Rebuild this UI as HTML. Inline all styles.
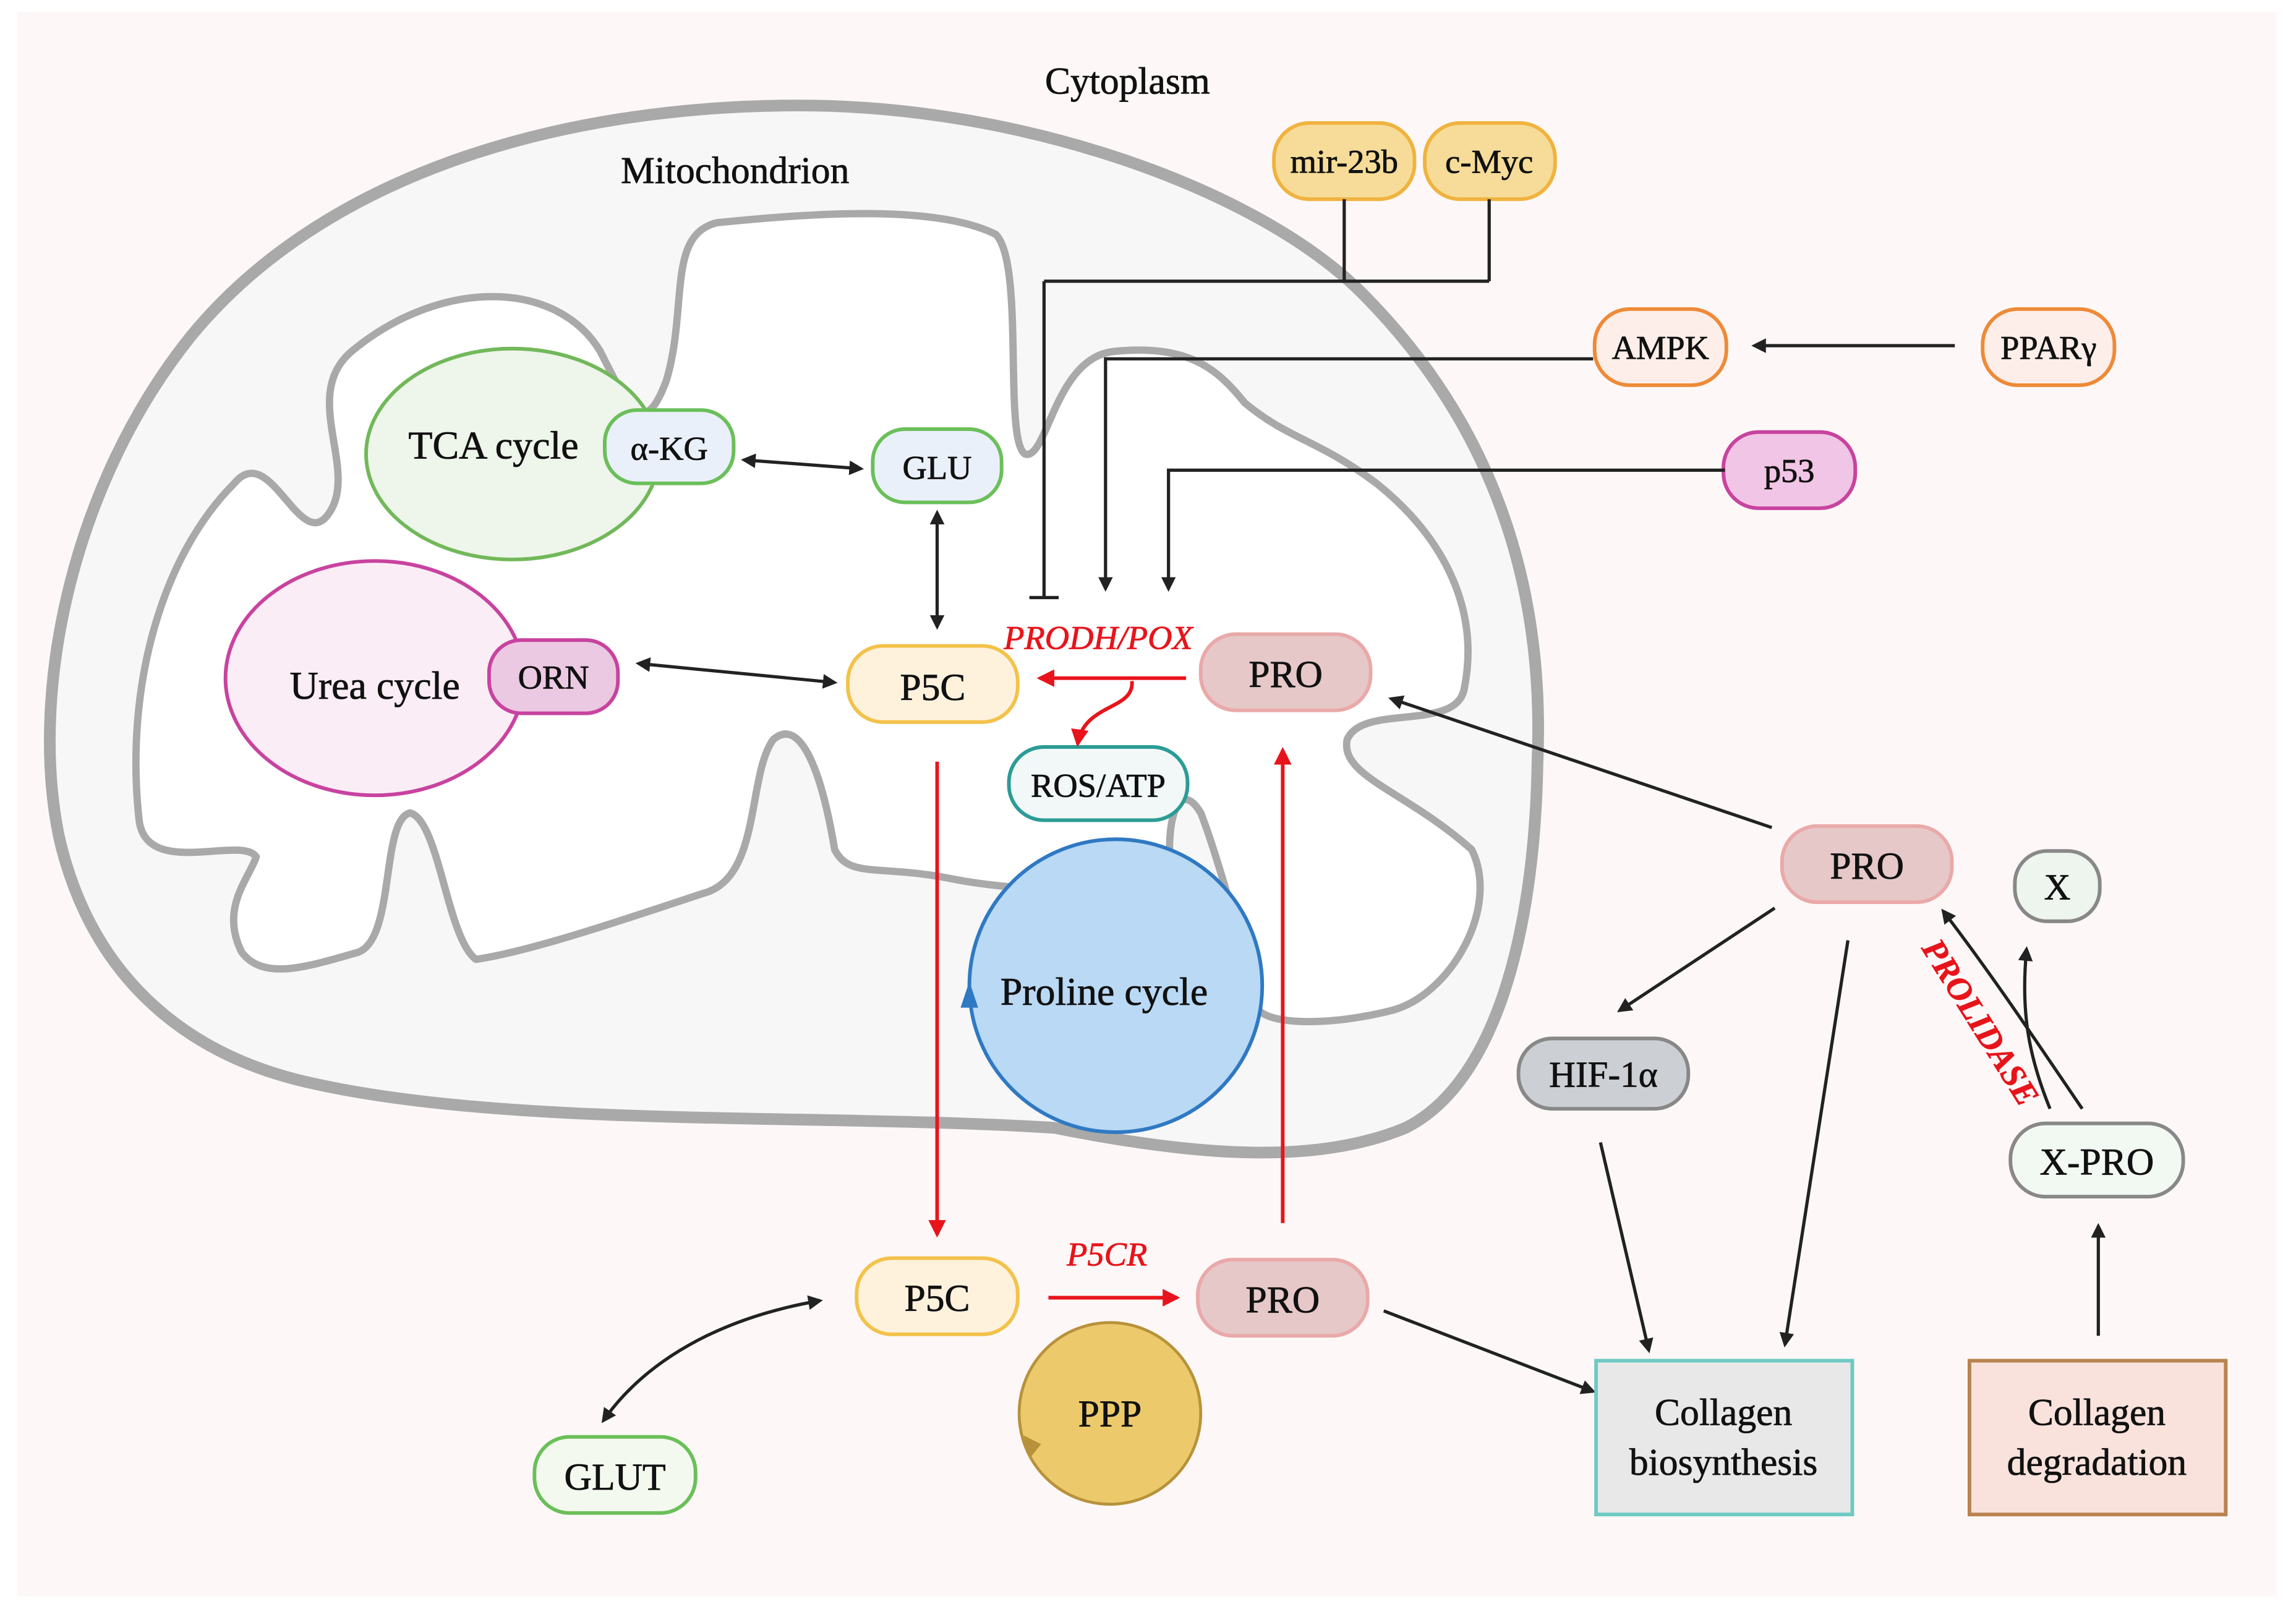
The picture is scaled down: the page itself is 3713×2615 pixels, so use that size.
<!DOCTYPE html>
<html><head><meta charset="utf-8"><style>
html,body{margin:0;padding:0;background:#fff}
svg{display:block}
text{font-family:"Liberation Serif",serif;fill:#111;stroke:#111;stroke-width:0.35}
</style></head><body>
<svg width="3713" height="2615" viewBox="0 0 1568 1104" preserveAspectRatio="none">
<defs>
<marker id="ak" markerWidth="10" markerHeight="10" refX="8" refY="5" orient="auto" markerUnits="userSpaceOnUse"><path d="M0,0 L10,5 L0,10 z" fill="#222"/></marker>
<marker id="aks" markerWidth="10" markerHeight="10" refX="2" refY="5" orient="auto" markerUnits="userSpaceOnUse"><path d="M10,0 L0,5 L10,10 z" fill="#222"/></marker>
<marker id="ar" markerWidth="12" markerHeight="12" refX="10" refY="6" orient="auto" markerUnits="userSpaceOnUse"><path d="M0,0 L12,6 L0,12 z" fill="#e8141b"/></marker>
</defs>
<rect x="12" y="8" width="1543" height="1082" fill="#fdf8f7"/>
<text x="770" y="64" font-size="26" text-anchor="middle">Cytoplasm</text>
<path d="M546,72 C700,72 860,130 930,200 C1020,290 1055,400 1050,520 C1048,640 1020,740 960,770 C900,795 820,790 720,770 C560,760 350,770 215,740 C120,720 60,660 40,570 C20,470 50,330 130,230 C220,120 380,72 546,72 Z" fill="#f7f7f7" stroke="#a9a9a9" stroke-width="8"/>
<path d="M95,560 C85,470 110,380 160,330 C185,300 205,380 225,350 C245,320 205,270 240,240 C300,190 380,190 410,240 C430,280 440,300 455,260 C470,210 455,160 490,152 C560,145 640,140 680,160 C700,180 685,300 700,310 C715,315 720,245 760,240 C810,235 830,250 850,275 C880,300 900,300 940,330 C990,370 1010,420 1000,470 C995,500 930,480 920,505 C915,530 960,540 1005,580 C1025,620 990,680 950,690 C910,700 870,700 860,690 C850,650 830,580 820,555 C805,530 795,560 800,600 C780,610 700,610 650,600 C600,590 580,600 570,580 C560,520 545,490 528,505 C510,530 520,600 480,610 C420,630 360,650 325,655 C305,640 300,560 280,555 C260,560 270,640 245,650 C210,660 180,670 165,650 C150,620 170,600 175,585 C165,570 100,600 95,560 Z" fill="#ffffff" stroke="#a9a9a9" stroke-width="5" stroke-linejoin="round"/>
<text x="502" y="125" font-size="26" text-anchor="middle">Mitochondrion</text>

<ellipse cx="350" cy="310" rx="100" ry="72" fill="#eef5ea" stroke="#72b85a" stroke-width="2.5"/>
<text x="337" y="313" font-size="27" text-anchor="middle">TCA cycle</text>
<rect x="413" y="280" width="88" height="50" rx="22" fill="#eaf0fa" stroke="#6bbf5a" stroke-width="2.5"/>
<text x="457" y="314" font-size="23" text-anchor="middle">α-KG</text>
<rect x="596" y="293" width="88" height="50" rx="22" fill="#eaf0fa" stroke="#6bbf5a" stroke-width="2.5"/>
<text x="640" y="327" font-size="23" text-anchor="middle">GLU</text>
<ellipse cx="256" cy="463" rx="102" ry="80" fill="#fbedf6" stroke="#c8439f" stroke-width="2.5"/>
<text x="256" y="477" font-size="27" text-anchor="middle">Urea cycle</text>
<rect x="334" y="437" width="88" height="50" rx="22" fill="#ecc9e2" stroke="#c8439f" stroke-width="2.5"/>
<text x="378" y="470" font-size="23" text-anchor="middle">ORN</text>

<rect x="579" y="441" width="116" height="52" rx="24" fill="#fff2dd" stroke="#f3c24a" stroke-width="2.5"/>
<text x="637" y="478" font-size="26" text-anchor="middle">P5C</text>
<rect x="820" y="433" width="116" height="52" rx="24" fill="#e6c8c8" stroke="#eaa9a9" stroke-width="2.5"/>
<text x="878" y="469" font-size="26" text-anchor="middle">PRO</text>
<text x="750" y="443" font-size="23" font-style="italic" text-anchor="middle" style="fill:#e8141b;stroke:#e8141b">PRODH/POX</text>
<rect x="689" y="510" width="122" height="50" rx="24" fill="#f1f8f7" stroke="#2b9c95" stroke-width="2.5"/>
<text x="750" y="544" font-size="23" text-anchor="middle">ROS/ATP</text>

<circle cx="762" cy="673" r="100" fill="#b9d9f4" stroke="#2f79c3" stroke-width="2.5"/>
<path d="M656,688 l6,-18 l6,18 z" fill="#2f79c3"/>
<text x="754" y="686" font-size="27" text-anchor="middle">Proline cycle</text>

<rect x="870" y="84" width="96" height="52" rx="24" fill="#f6dc98" stroke="#f0b33f" stroke-width="2.5"/>
<text x="918" y="118" font-size="23" text-anchor="middle">mir-23b</text>
<rect x="973" y="84" width="89" height="52" rx="24" fill="#f6dc98" stroke="#f0b33f" stroke-width="2.5"/>
<text x="1017" y="118" font-size="23" text-anchor="middle">c-Myc</text>
<rect x="1089" y="211" width="90" height="52" rx="24" fill="#fdeee9" stroke="#ee8a38" stroke-width="2.5"/>
<text x="1134" y="245" font-size="23" text-anchor="middle">AMPK</text>
<rect x="1354" y="211" width="90" height="52" rx="24" fill="#fdeee9" stroke="#ee8a38" stroke-width="2.5"/>
<text x="1399" y="245" font-size="23" text-anchor="middle">PPARγ</text>
<rect x="1177" y="295" width="90" height="52" rx="24" fill="#f1c5e5" stroke="#c8439f" stroke-width="2.5"/>
<text x="1222" y="329" font-size="23" text-anchor="middle">p53</text>

<g fill="none" stroke="#222" stroke-width="2.2">
<path d="M918,136 V192 M1017,136 V192 M713,192 H1017 M713,192 V408 M703,408 H723"/>
<path d="M1088,245 H755 V402" marker-end="url(#ak)"/>
<path d="M1335,236 H1198" marker-end="url(#ak)"/>
<path d="M1178,321 H798 V402" marker-end="url(#ak)"/>
<path d="M508,314 L588,320" marker-start="url(#aks)" marker-end="url(#ak)"/>
<path d="M640,350 V428" marker-start="url(#aks)" marker-end="url(#ak)"/>
<path d="M436,453 L570,466" marker-start="url(#aks)" marker-end="url(#ak)"/>
<path d="M560,888 C490,900 440,930 412,970" marker-start="url(#aks)" marker-end="url(#ak)"/>
<path d="M945,895 L1088,950" marker-end="url(#ak)"/>
<path d="M1210,565 L950,477" marker-end="url(#ak)"/>
<path d="M1212,620 L1106,690" marker-end="url(#ak)"/>
<path d="M1262,642 L1219,918" marker-end="url(#ak)"/>
<path d="M1093,780 L1126,922" marker-end="url(#ak)"/>
<path d="M1422,757 C1390,710 1360,665 1327,622" marker-end="url(#ak)"/>
<path d="M1400,757 C1385,720 1380,690 1384,648" marker-end="url(#ak)"/>
<path d="M1433,912 V837" marker-end="url(#ak)"/>
</g>
<g fill="none" stroke="#e8141b" stroke-width="2.5">
<path d="M810,463 H710" marker-end="url(#ar)"/>
<path d="M773,465 C775,485 740,480 736,508" marker-end="url(#ar)"/>
<path d="M640,520 V843" marker-end="url(#ar)"/>
<path d="M876,835 V512" marker-end="url(#ar)"/>
<path d="M716,886 H804" marker-end="url(#ar)"/>
</g>

<rect x="585" y="859" width="110" height="52" rx="24" fill="#fff2dd" stroke="#f3c24a" stroke-width="2.5"/>
<text x="640" y="895" font-size="26" text-anchor="middle">P5C</text>
<text x="756" y="864" font-size="23" font-style="italic" text-anchor="middle" style="fill:#e8141b;stroke:#e8141b">P5CR</text>
<rect x="818" y="860" width="116" height="52" rx="24" fill="#e6c8c8" stroke="#eaa9a9" stroke-width="2.5"/>
<text x="876" y="896" font-size="26" text-anchor="middle">PRO</text>
<circle cx="758" cy="965" r="62" fill="#ecca6c" stroke="#b8923a" stroke-width="2"/>
<path d="M699,980 l4,16 l8,-10 z" fill="#b8923a"/>
<text x="758" y="974" font-size="26" text-anchor="middle">PPP</text>
<rect x="365" y="981" width="110" height="52" rx="24" fill="#f4f9ef" stroke="#6bbf5a" stroke-width="2.5"/>
<text x="420" y="1017" font-size="26" text-anchor="middle">GLUT</text>
<rect x="1090" y="929" width="175" height="105" fill="#e8e8e8" stroke="#6ecac3" stroke-width="2.5"/>
<text x="1177" y="973" font-size="26" text-anchor="middle">Collagen</text>
<text x="1177" y="1007" font-size="26" text-anchor="middle">biosynthesis</text>
<rect x="1345" y="929" width="175" height="105" fill="#f9e2dc" stroke="#b8834f" stroke-width="2.5"/>
<text x="1432" y="973" font-size="26" text-anchor="middle">Collagen</text>
<text x="1432" y="1007" font-size="26" text-anchor="middle">degradation</text>
<rect x="1037" y="709" width="116" height="48" rx="23" fill="#ccd0d4" stroke="#888" stroke-width="2.5"/>
<text x="1095" y="742" font-size="25" text-anchor="middle">HIF-1α</text>
<rect x="1217" y="564" width="116" height="52" rx="24" fill="#e6c8c8" stroke="#eaa9a9" stroke-width="2.5"/>
<text x="1275" y="600" font-size="26" text-anchor="middle">PRO</text>
<rect x="1376" y="581" width="58" height="48" rx="22" fill="#eef4ee" stroke="#888" stroke-width="2.5"/>
<text x="1405" y="614" font-size="25" text-anchor="middle">X</text>
<rect x="1373" y="767" width="118" height="50" rx="24" fill="#f2f8f2" stroke="#888" stroke-width="2.5"/>
<text x="1432" y="802" font-size="26" text-anchor="middle">X-PRO</text>
<text x="0" y="0" font-size="23" font-style="italic" font-weight="bold" text-anchor="middle" style="fill:#e8141b;stroke:#e8141b" transform="translate(1346,702) rotate(58)">PROLIDASE</text>
</svg>
</body></html>
